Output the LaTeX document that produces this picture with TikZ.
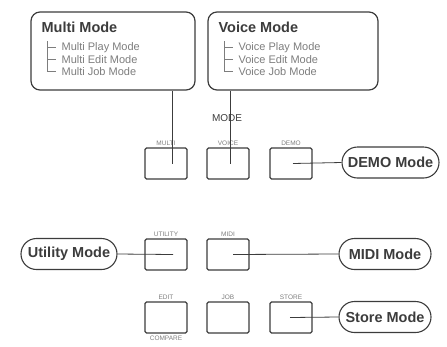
\documentclass[tikz,border=0pt]{standalone}
\usepackage{fontspec}
\setmainfont{Liberation Sans}
\usetikzlibrary{shapes.misc}
\definecolor{panelInk}{RGB}{60,60,60}
\definecolor{panelGray}{RGB}{125,125,125}

\tikzset{
  modebox/.style={draw=panelInk,line width=1.2pt,rounded corners=9pt,minimum height=78pt},
  boxtitle/.style={anchor=west,inner sep=1pt,font=\fontsize{14.5}{16}\selectfont\bfseries,text=panelInk},
  subitem/.style={anchor=west,inner sep=1pt,font=\fontsize{11}{12}\selectfont,text=panelGray},
  tree/.style={draw=panelGray,line width=0.5pt},
  pill/.style={rounded rectangle,draw=panelInk,line width=1.1pt,minimum height=31pt,inner xsep=6pt,font=\fontsize{14.5}{16}\selectfont\bfseries,text=panelInk},
  panelkey/.style={draw=panelInk,line width=1.3pt,rounded corners=1.5pt,minimum width=42pt,minimum height=31pt,inner sep=0pt},
  keylabel/.style={font=\fontsize{6.5}{7}\selectfont,text=panelGray,inner sep=2pt},
  wire/.style={draw=panelInk,line width=0.8pt}
}

\begin{document}
\begin{tikzpicture}[x=1pt,y=-1pt]
\useasboundingbox (0,0) rectangle (447,346);

% mode boxes on top
\node[modebox,minimum width=164pt] (multibox) at (113,51) {};
\node[boxtitle] (multititle) at ([xshift=10pt,yshift=-16pt]multibox.north west) {Multi Mode};
\node[subitem] (multiplay) at ([xshift=30pt,yshift=-36pt]multibox.north west) {Multi Play Mode};
\node[subitem] (multiedit) at ([xshift=30pt,yshift=-48pt]multibox.north west) {Multi Edit Mode};
\node[subitem] (multijob) at ([xshift=30pt,yshift=-60pt]multibox.north west) {Multi Job Mode};
\coordinate (multitree) at ([xshift=17pt,yshift=-30pt]multibox.north west);
\draw[tree] (multitree) |- ([xshift=-4pt]multijob.west);
\draw[tree] (multitree |- multiplay.west) -- ([xshift=-4pt]multiplay.west);
\draw[tree] (multitree |- multiedit.west) -- ([xshift=-4pt]multiedit.west);

\node[modebox,minimum width=170pt] (voicebox) at (293,51) {};
\node[boxtitle] (voicetitle) at ([xshift=10pt,yshift=-16pt]voicebox.north west) {Voice Mode};
\node[subitem] (voiceplay) at ([xshift=30pt,yshift=-36pt]voicebox.north west) {Voice Play Mode};
\node[subitem] (voiceedit) at ([xshift=30pt,yshift=-48pt]voicebox.north west) {Voice Edit Mode};
\node[subitem] (voicejob) at ([xshift=30pt,yshift=-60pt]voicebox.north west) {Voice Job Mode};
\coordinate (voicetree) at ([xshift=17pt,yshift=-30pt]voicebox.north west);
\draw[tree] (voicetree) |- ([xshift=-4pt]voicejob.west);
\draw[tree] (voicetree |- voiceplay.west) -- ([xshift=-4pt]voiceplay.west);
\draw[tree] (voicetree |- voiceedit.west) -- ([xshift=-4pt]voiceedit.west);

% panel keys
\node[font=\fontsize{10}{11}\selectfont,text=panelInk] (modetext) at (227,118) {MODE};
\node[panelkey,label={[keylabel]above:MULTI}] (multikey) at (166,163.5) {};
\node[panelkey,label={[keylabel]above:VOICE}] (voicekey) at (228,163.5) {};
\node[panelkey,label={[keylabel]above:DEMO}] (demokey) at (291,163.5) {};
\node[panelkey,label={[keylabel]above:UTILITY}] (utilkey) at (166,254.5) {};
\node[panelkey,label={[keylabel]above:MIDI}] (midikey) at (228,254.5) {};
\node[panelkey,label={[keylabel]above:EDIT},label={[keylabel]below:COMPARE}] (editkey) at (166,317.5) {};
\node[panelkey,label={[keylabel]above:JOB}] (jobkey) at (228,317.5) {};
\node[panelkey,label={[keylabel]above:STORE}] (storekey) at (291,317.5) {};

% mode names
\node[pill,minimum width=109pt] (demopill) at (390.5,162.5) {DEMO Mode};
\node[pill,minimum width=108pt] (utilpill) at (69,254) {Utility Mode};
\node[pill,minimum width=104pt] (midipill) at (385,254) {MIDI Mode};
\node[pill,minimum width=104pt] (storepill) at (385,317) {Store Mode};

% connectors
\draw[wire] ([xshift=6pt]multikey.center) -- ([xshift=6pt]multikey.center |- multibox.south);
\draw[wire] ([xshift=2pt]voicekey.center) -- ([xshift=2pt]voicekey.center |- voicebox.south);
\draw[wire] (demopill.west) -- ([xshift=2pt]demokey.center);
\draw[wire] (utilpill.east) -- ([xshift=7pt]utilkey.center);
\draw[wire] (midipill.west) -- ([xshift=5pt]midikey.center);
\draw[wire] (storepill.west) -- ([xshift=-1pt]storekey.center);
\end{tikzpicture}
\end{document}
